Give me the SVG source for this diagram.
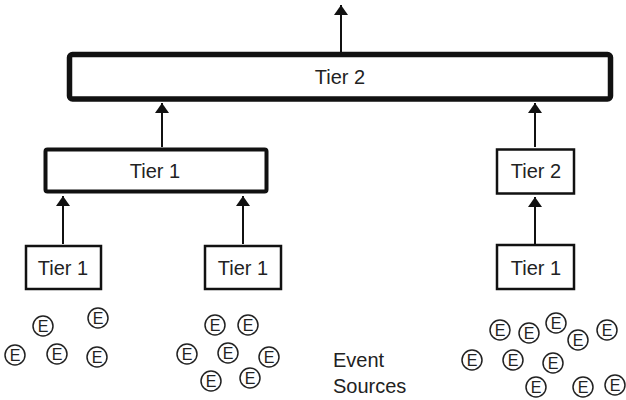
<svg xmlns="http://www.w3.org/2000/svg" width="626" height="400" viewBox="0 0 626 400">
<style>
.box{fill:#fff;stroke:#111}
.t{font-family:"Liberation Sans",Arial,sans-serif;font-size:20px;fill:#222;text-anchor:middle}
.c line{stroke:#111;stroke-width:2;marker-end:url(#ah)}
.lbl{font-family:"Liberation Sans",Arial,sans-serif;font-size:20px;fill:#222}
</style>
<defs>
<marker id="ah" viewBox="0 0 10 14" refX="10" refY="7" markerWidth="10" markerHeight="14" markerUnits="userSpaceOnUse" orient="auto"><path d="M0,0L10,7L0,14z" fill="#111"/></marker>
<symbol id="E" overflow="visible"><circle r="10" fill="#fff" stroke="#222" stroke-width="1.5"/><text y="6" font-family="Liberation Sans, Arial, sans-serif" font-size="16" fill="#222" text-anchor="middle">E</text></symbol>
</defs>
<g id="connectors" class="c">
<line x1="341" y1="52" x2="341" y2="5"/>
<line x1="162" y1="147" x2="162" y2="103"/>
<line x1="535" y1="147" x2="535" y2="103"/>
<line x1="63" y1="244" x2="63" y2="196"/>
<line x1="243" y1="244" x2="243" y2="196"/>
<line x1="535" y1="244" x2="535" y2="197"/>
</g>
<g id="tier2-top"><rect class="box" x="69.5" y="54.5" width="541" height="44.5" rx="3" stroke-width="5.5"/><text class="t" x="340" y="84">Tier 2</text></g>
<g id="tier1-mid"><rect class="box" x="45.5" y="149.5" width="221" height="42" rx="2" stroke-width="4"/><text class="t" x="155" y="178">Tier 1</text></g>
<g id="tier2-right"><rect class="box" x="497" y="149.5" width="77" height="44" stroke-width="2.5"/><text class="t" x="536" y="178">Tier 2</text></g>
<g id="tier1-a"><rect class="box" x="26" y="246" width="75" height="43" stroke-width="2.5"/><text class="t" x="63" y="275">Tier 1</text></g>
<g id="tier1-b"><rect class="box" x="205" y="246" width="76" height="43" stroke-width="2.5"/><text class="t" x="243" y="275">Tier 1</text></g>
<g id="tier1-c"><rect class="box" x="497" y="245" width="77" height="44" stroke-width="2.5"/><text class="t" x="536" y="275">Tier 1</text></g>
<g id="event-sources">
<use href="#E" x="43" y="326"/><use href="#E" x="98" y="318"/><use href="#E" x="15" y="355"/><use href="#E" x="57" y="354"/><use href="#E" x="97" y="357"/>
<use href="#E" x="215" y="325"/><use href="#E" x="248" y="325"/><use href="#E" x="187" y="354"/><use href="#E" x="228" y="353"/><use href="#E" x="269" y="357"/><use href="#E" x="211" y="381"/><use href="#E" x="250" y="378"/>
<use href="#E" x="500" y="330"/><use href="#E" x="529" y="333"/><use href="#E" x="556" y="323"/><use href="#E" x="578" y="340"/><use href="#E" x="607" y="330"/><use href="#E" x="472" y="360"/><use href="#E" x="513" y="360"/><use href="#E" x="553" y="363"/><use href="#E" x="536" y="387"/><use href="#E" x="583" y="387"/><use href="#E" x="615" y="385"/>
</g>
<g id="label"><text class="lbl" x="333" y="367">Event</text><text class="lbl" x="333" y="393">Sources</text></g>
</svg>
